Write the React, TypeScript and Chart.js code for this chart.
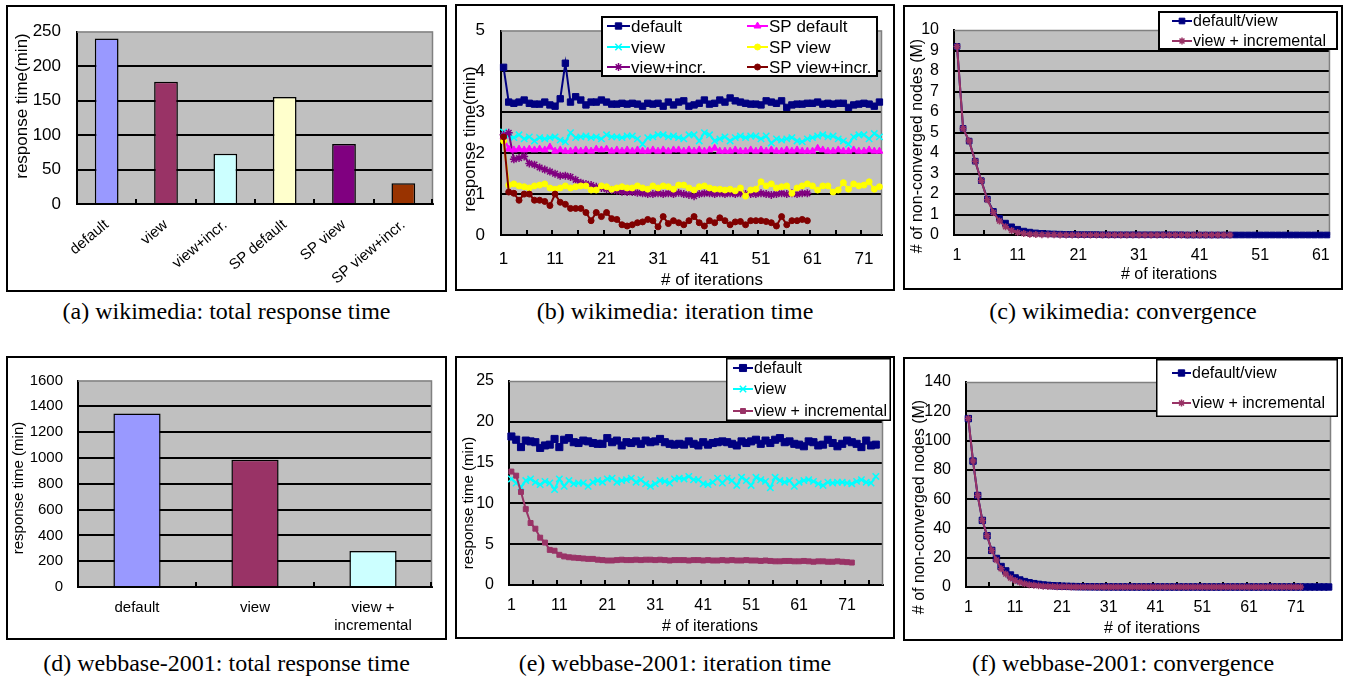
import React, { useEffect, useRef } from 'react';
import { Chart, registerables } from 'chart.js';

Chart.register(...registerables);

const FONT_FAMILY = "'Liberation Sans', Arial, Helvetica, sans-serif";
const SERIF = "'Liberation Serif', 'Times New Roman', serif";

// ---------------- (a) wikimedia: total response time ----------------
const WIKI_BAR_CATEGORIES = ['default', 'view', 'view+incr.', 'SP default', 'SP view', 'SP view+incr.'];
const WIKI_BAR_VALUES = [240, 177, 73, 155, 87, 30];

// ---------------- (d) webbase-2001: total response time ----------------
const WEB_BAR_CATEGORIES = ['default', 'view', ['view +', 'incremental']];
const WEB_BAR_VALUES = [1345, 985, 278];

// ---------------- (b) wikimedia: iteration time ----------------
const WIKI_ITER_TICKS = [1, 11, 21, 31, 41, 51, 61, 71];
const WIKI_DEFAULT = [
  4.10, 3.25, 3.22, 3.25, 3.30, 3.22, 3.20, 3.20, 3.25, 3.18,
  3.15, 3.33, 4.20, 3.25, 3.38, 3.30, 3.18, 3.25, 3.25, 3.30,
  3.25, 3.20, 3.20, 3.22, 3.20, 3.22, 3.20, 3.15, 3.22, 3.20,
  3.22, 3.15, 3.25, 3.18, 3.25, 3.28, 3.15, 3.18, 3.22, 3.30,
  3.20, 3.22, 3.30, 3.25, 3.35, 3.28, 3.25, 3.22, 3.20, 3.20,
  3.18, 3.28, 3.25, 3.22, 3.28, 3.12, 3.18, 3.20, 3.20, 3.22,
  3.22, 3.25, 3.20, 3.22, 3.20, 3.22, 3.22, 3.12, 3.18, 3.20,
  3.22, 3.20, 3.15, 3.25,
];
const WIKI_VIEW = [
  2.52, 2.42, 2.38, 2.45, 2.35, 2.40, 2.30, 2.38, 2.35, 2.38,
  2.40, 2.32, 2.28, 2.50, 2.38, 2.40, 2.42, 2.38, 2.40, 2.35,
  2.45, 2.40, 2.40, 2.38, 2.42, 2.42, 2.35, 2.22, 2.38, 2.40,
  2.45, 2.45, 2.40, 2.42, 2.38, 2.35, 2.45, 2.45, 2.30, 2.50,
  2.45, 2.30, 2.35, 2.40, 2.30, 2.38, 2.42, 2.38, 2.42, 2.42,
  2.35, 2.42, 2.25, 2.35, 2.32, 2.35, 2.38, 2.30, 2.28, 2.35,
  2.38, 2.42, 2.45, 2.40, 2.42, 2.35, 2.30, 2.22, 2.40, 2.45,
  2.45, 2.35, 2.48, 2.40,
];
const WIKI_VIEW_INCR = [
  2.45, 2.50, 1.85, 1.88, 1.92, 1.75, 1.72, 1.65, 1.60, 1.55,
  1.50, 1.45, 1.45, 1.42, 1.35, 1.28, 1.25, 1.22, 1.18, 1.15,
  1.12, 1.10, 1.08, 1.06, 1.05, 1.05, 1.03, 1.02, 1.00, 1.00,
  1.02, 1.00, 1.02, 1.00, 1.03, 1.00, 0.98, 0.95, 1.00, 1.02,
  1.02, 1.00, 1.02, 1.00, 1.02, 1.00, 1.02, 1.00, 1.00, 1.00,
  1.02, 1.00, 0.98, 1.00, 1.02, 1.00, 1.02, 1.00, 1.02, 1.02,
];
const WIKI_SP_DEFAULT = [
  2.40, 2.10, 2.08, 2.10, 2.08, 2.10, 2.08, 2.10, 2.08, 2.15,
  2.05, 2.08, 2.05, 2.05, 2.08, 2.05, 2.08, 2.05, 2.10, 2.08,
  2.10, 2.05, 2.08, 2.05, 2.08, 2.05, 2.08, 2.05, 2.05, 2.08,
  2.05, 2.08, 2.05, 2.08, 2.08, 2.05, 2.08, 2.05, 2.08, 2.05,
  2.08, 2.12, 2.05, 2.05, 2.05, 2.08, 2.05, 2.05, 2.08, 2.05,
  2.08, 2.05, 2.08, 2.05, 2.05, 2.08, 2.05, 2.08, 2.05, 2.05,
  2.05, 2.12, 2.08, 2.05, 2.05, 2.08, 2.05, 2.05, 2.08, 2.05,
  2.05, 2.08, 2.05, 2.05,
];
const WIKI_SP_VIEW = [
  2.30, 1.22, 1.25, 1.20, 1.18, 1.15, 1.20, 1.22, 1.25, 1.15,
  1.12, 1.15, 1.20, 1.15, 1.18, 1.20, 1.20, 1.10, 1.10, 1.20,
  1.18, 1.12, 1.15, 1.18, 1.15, 1.15, 1.20, 1.15, 1.12, 1.20,
  1.15, 1.20, 1.18, 1.12, 1.22, 1.22, 1.15, 1.10, 1.18, 1.20,
  1.15, 1.12, 1.12, 1.10, 1.12, 1.08, 1.15, 0.95, 1.10, 1.12,
  1.30, 1.20, 1.25, 1.15, 1.18, 1.20, 1.02, 1.15, 1.20, 1.25,
  1.20, 1.10, 1.20, 1.20, 1.05, 1.10, 1.28, 1.12, 1.25, 1.20,
  1.22, 1.30, 1.12, 1.18,
];
const WIKI_SP_VIEW_INCR = [
  2.40, 1.05, 1.02, 0.85, 1.00, 1.00, 0.85, 0.85, 0.82, 0.72,
  1.00, 0.80, 0.75, 0.65, 0.65, 0.65, 0.55, 0.35, 0.55, 0.45,
  0.55, 0.40, 0.38, 0.25, 0.22, 0.25, 0.30, 0.32, 0.38, 0.35,
  0.20, 0.45, 0.28, 0.35, 0.30, 0.25, 0.35, 0.45, 0.30, 0.22,
  0.35, 0.30, 0.42, 0.35, 0.25, 0.32, 0.33, 0.25, 0.35, 0.35,
  0.35, 0.33, 0.30, 0.22, 0.45, 0.25, 0.35, 0.35, 0.38, 0.35,
];

// ---------------- (c) wikimedia: convergence ----------------
const WIKI_CONV_TICKS = [1, 11, 21, 31, 41, 51, 61];
const WIKI_CONV_DEFAULT = [
  9.20, 5.20, 4.58, 3.60, 2.65, 1.75, 1.15, 0.82, 0.58, 0.40,
  0.28, 0.19, 0.14, 0.10, 0.08, 0.06, 0.05, 0.04, 0.03, 0.03,
  0.02, 0.02, 0.02, 0.02, 0.01, 0.01, 0.01, 0.01, 0.01, 0.01,
  0.01, 0.01, 0.01, 0.01, 0.01, 0.01, 0.01, 0.01, 0.00, 0.00,
  0.00, 0.00, 0.00, 0.00, 0.00, 0.00, 0.00, 0.00, 0.00, 0.00,
  0.00, 0.00, 0.00, 0.00, 0.00, 0.00, 0.00, 0.00, 0.00, 0.00,
  0.00, 0.00,
];
const WIKI_CONV_INCR = [
  9.20, 5.20, 4.58, 3.60, 2.65, 1.72, 1.10, 0.68, 0.40, 0.22,
  0.12, 0.07, 0.04, 0.02, 0.01, 0.01, 0.01, 0.00, 0.00, 0.00,
  0.00, 0.00, 0.00, 0.00, 0.00, 0.00, 0.00, 0.00, 0.00, 0.00,
  0.00, 0.00, 0.00, 0.00, 0.00, 0.00, 0.00, 0.00, 0.00, 0.00,
  0.00, 0.00, 0.00, 0.00, 0.00, 0.00,
];

// ---------------- (e) webbase-2001: iteration time ----------------
const WEB_ITER_TICKS = [1, 11, 21, 31, 41, 51, 61, 71];
const WEB_DEFAULT = [
  18.2, 17.8, 16.9, 17.7, 17.6, 17.5, 16.8, 17.1, 17.2, 17.9,
  16.9, 17.8, 18.0, 17.5, 17.4, 17.7, 17.6, 17.4, 17.3, 17.3,
  18.0, 17.5, 17.7, 17.1, 17.5, 17.4, 17.6, 17.3, 17.7, 17.5,
  17.6, 17.9, 17.5, 17.3, 17.2, 17.3, 17.2, 17.6, 17.3, 17.1,
  17.5, 17.2, 17.4, 17.5, 17.6, 17.5, 17.3, 17.1, 17.6, 17.4,
  17.6, 17.8, 17.3, 17.7, 17.4, 17.8, 18.0, 17.5, 17.6, 17.3,
  17.2, 17.0, 17.6, 17.5, 17.1, 17.2, 17.8, 17.4, 17.0, 17.3,
  17.7, 17.5, 17.3, 16.9, 17.7, 17.1, 17.2,
];
const WEB_VIEW = [
  13.0, 12.5, 12.0, 12.8, 13.0, 12.6, 12.3, 12.7, 12.5, 11.7,
  13.0, 12.1, 12.8, 12.4, 12.5, 12.5, 12.1, 12.6, 12.8, 12.6,
  13.0, 13.1, 12.6, 12.8, 12.9, 13.1, 12.6, 12.9, 12.4, 12.1,
  12.4, 12.8, 12.7, 12.5, 13.0, 13.1, 13.0, 13.3, 12.9, 12.9,
  12.4, 12.3, 12.6, 13.1, 12.5, 13.1, 12.8, 12.2, 13.2, 12.8,
  12.2, 13.2, 12.9, 12.7, 11.9, 13.2, 12.8, 12.6, 12.8, 12.1,
  12.6, 12.8, 12.9, 12.7, 12.4, 12.2, 12.6, 12.5, 12.6, 12.6,
  12.5, 12.4, 12.7, 12.9, 12.6, 12.5, 13.3,
];
const WEB_VIEW_INCR = [
  13.9, 13.4, 11.4, 9.3, 7.6, 6.9, 5.8, 5.2, 4.3, 4.2,
  3.7, 3.5, 3.4, 3.35, 3.3, 3.25, 3.2, 3.2, 3.1, 3.05,
  3.0, 3.0, 3.05, 3.1, 3.05, 3.05, 3.1, 3.05, 3.1, 3.1,
  3.05, 3.1, 3.05, 3.0, 3.05, 3.05, 3.05, 3.0, 3.05, 3.05,
  3.0, 3.05, 3.0, 3.0, 3.05, 3.0, 3.05, 3.0, 3.0, 3.05,
  3.0, 3.0, 2.95, 3.0, 2.95, 2.9, 2.9, 2.95, 2.95, 2.9,
  2.9, 2.95, 2.9, 2.85, 2.9, 2.9, 2.85, 2.85, 2.9, 2.85,
  2.8, 2.75,
];

// ---------------- (f) webbase-2001: convergence ----------------
const WEB_CONV_TICKS = [1, 11, 21, 31, 41, 51, 61, 71];
const WEB_CONV_DEFAULT = [
  115, 86, 62.5, 45.5, 35, 25, 19.5, 14, 11, 8.2,
  6.2, 4.8, 3.7, 2.9, 2.3, 1.8, 1.4, 1.1, 0.9, 0.7,
  0.55, 0.45, 0.35, 0.28, 0.22, 0.18, 0.14, 0.11, 0.09, 0.07,
  0.06, 0.05, 0.04, 0.03, 0.03, 0.02, 0.02, 0.02, 0.01, 0.01,
  0.01, 0.01, 0.01, 0.01, 0.01, 0.01, 0.01, 0.01, 0.01, 0.01,
  0, 0, 0, 0, 0, 0, 0, 0, 0, 0,
  0, 0, 0, 0, 0, 0, 0, 0, 0, 0,
  0, 0, 0, 0, 0, 0, 0, 0,
];
const WEB_CONV_INCR = [
  115, 86, 62.5, 45.5, 35, 25, 18.5, 12.5, 8.8, 6.2,
  4.5, 3.2, 2.3, 1.6, 1.15, 0.8, 0.55, 0.4, 0.28, 0.2,
  0.14, 0.1, 0.07, 0.05, 0.04, 0.03, 0.02, 0.02, 0.01, 0.01,
  0, 0, 0, 0, 0, 0, 0, 0, 0, 0,
  0, 0, 0, 0, 0, 0, 0, 0, 0, 0,
  0, 0, 0, 0, 0, 0, 0, 0, 0, 0,
  0, 0, 0, 0, 0, 0, 0, 0, 0, 0,
  0, 0,
];

// ---------------- styles ----------------
const BAR_COLORS_A = ['#9999FF', '#993366', '#CCFFFF', '#FFFFCC', '#800080', '#993300'];
const BAR_COLORS_D = ['#9999FF', '#993366', '#CCFFFF'];

type Title = { text: string; x: number; y: number; size: number; rotate?: boolean };
type LegendItem = { ds: number; x: number; y: number; len: number };
type LegendSpec = { box: [number, number, number, number]; border: number; size: number; items: LegendItem[] };

function drawMarker(ctx: CanvasRenderingContext2D, style: string, x: number, y: number, r: number, fill: string, stroke: string, lw: number) {
  ctx.save();
  ctx.fillStyle = fill;
  ctx.strokeStyle = stroke;
  ctx.lineWidth = lw;
  ctx.beginPath();
  if (style === 'rect') {
    const s = r * Math.SQRT1_2;
    ctx.rect(x - s, y - s, 2 * s, 2 * s);
    ctx.fill();
    ctx.stroke();
  } else if (style === 'circle') {
    ctx.arc(x, y, r, 0, Math.PI * 2);
    ctx.fill();
    ctx.stroke();
  } else if (style === 'triangle') {
    let rad = 0;
    ctx.moveTo(x + Math.sin(rad) * r, y - Math.cos(rad) * r);
    rad += (2 * Math.PI) / 3;
    ctx.lineTo(x + Math.sin(rad) * r, y - Math.cos(rad) * r);
    rad += (2 * Math.PI) / 3;
    ctx.lineTo(x + Math.sin(rad) * r, y - Math.cos(rad) * r);
    ctx.closePath();
    ctx.fill();
    ctx.stroke();
  } else {
    const d = r * Math.SQRT1_2;
    ctx.moveTo(x - d, y - d);
    ctx.lineTo(x + d, y + d);
    ctx.moveTo(x - d, y + d);
    ctx.lineTo(x + d, y - d);
    if (style === 'star') {
      ctx.moveTo(x, y - r);
      ctx.lineTo(x, y + r);
      ctx.moveTo(x - r, y);
      ctx.lineTo(x + r, y);
    }
    ctx.stroke();
  }
  ctx.restore();
}

function decor(opts: { ticks: 'iter' | 'cat'; titles: Title[]; legend?: LegendSpec }) {
  return {
    id: 'decor',
    beforeDraw(chart: any) {
      const { ctx, chartArea: a } = chart;
      ctx.save();
      ctx.fillStyle = '#C0C0C0';
      ctx.fillRect(a.left, a.top, a.right - a.left, a.bottom - a.top);
      ctx.restore();
    },
    beforeDatasetsDraw(chart: any) {
      const { ctx, chartArea: a, scales } = chart;
      ctx.save();
      ctx.strokeStyle = '#808080';
      ctx.lineWidth = 1.5;
      ctx.beginPath();
      ctx.moveTo(a.left, a.top + 0.5);
      ctx.lineTo(a.right - 0.5, a.top + 0.5);
      ctx.lineTo(a.right - 0.5, a.bottom);
      ctx.stroke();
      const x = scales.x;
      const marks: number[] = [];
      if (opts.ticks === 'iter') {
        for (let v = x.min + 5; v < x.max; v += 5) marks.push(x.getPixelForValue(v));
      } else {
        for (let i = 1; i < x.ticks.length; i++) marks.push((x.getPixelForTick(i - 1) + x.getPixelForTick(i)) / 2);
        marks.push(a.right - 1);
      }
      ctx.strokeStyle = '#000';
      ctx.lineWidth = 2;
      ctx.beginPath();
      for (const px of marks) {
        const rx = Math.round(px);
        ctx.moveTo(rx, a.bottom);
        ctx.lineTo(rx, a.bottom - 5);
      }
      ctx.stroke();
      ctx.restore();
    },
    afterDraw(chart: any) {
      const { ctx } = chart;
      ctx.save();
      ctx.fillStyle = '#000';
      ctx.textAlign = 'center';
      ctx.textBaseline = 'middle';
      for (const t of opts.titles) {
        ctx.save();
        ctx.font = `${t.size}px ${FONT_FAMILY}`;
        ctx.translate(t.x, t.y);
        if (t.rotate) ctx.rotate(-Math.PI / 2);
        ctx.fillText(t.text, 0, 0);
        ctx.restore();
      }
      const lg = opts.legend;
      if (lg) {
        const [x1, y1, x2, y2] = lg.box;
        ctx.fillStyle = '#fff';
        ctx.fillRect(x1, y1, x2 - x1, y2 - y1);
        ctx.strokeStyle = '#000';
        ctx.lineWidth = lg.border;
        ctx.strokeRect(x1 + lg.border / 2, y1 + lg.border / 2, x2 - x1 - lg.border, y2 - y1 - lg.border);
        ctx.font = `${lg.size}px ${FONT_FAMILY}`;
        ctx.textAlign = 'left';
        ctx.textBaseline = 'middle';
        for (const it of lg.items) {
          const ds = chart.data.datasets[it.ds];
          ctx.strokeStyle = ds.borderColor;
          ctx.lineWidth = ds.borderWidth;
          ctx.beginPath();
          ctx.moveTo(it.x, it.y);
          ctx.lineTo(it.x + it.len, it.y);
          ctx.stroke();
          drawMarker(ctx, ds.pointStyle, it.x + it.len / 2, it.y, ds.pointRadius, ds.pointBackgroundColor, ds.pointBorderColor, ds.pointBorderWidth);
          ctx.fillStyle = '#000';
          ctx.fillText(ds.label, it.x + it.len + 1, it.y + 1);
        }
      }
      ctx.restore();
    },
  };
}

function series(label: string, values: number[], color: string, style: string, radius: number, pbw = 1) {
  return {
    label,
    data: values.map((y, i) => ({ x: i + 1, y })),
    borderColor: color,
    backgroundColor: color,
    borderWidth: 2,
    pointStyle: style,
    pointRadius: radius,
    pointHoverRadius: radius,
    pointBackgroundColor: color,
    pointBorderColor: color,
    pointBorderWidth: pbw,
    clip: false,
  };
}

type Frame = { yWidth: number; xHeight: number; padTop: number; padRight: number; size: number; yPad: number; xPad: number; yMax: number; yStep: number; xSize?: number };

function yScale(f: Frame) {
  return {
    min: 0,
    max: f.yMax,
    ticks: {
      stepSize: f.yStep, color: '#000', padding: f.yPad,
      font: { family: FONT_FAMILY, size: f.size, lineHeight: 1 },
      callback: (v: any) => String(v),
    },
    afterFit: (s: any) => { s.width = f.yWidth; },
    grid: {
      color: (c: any) => (c.tick && c.tick.value === f.yMax ? 'rgba(0,0,0,0)' : '#000'),
      lineWidth: 2,
      drawTicks: false,
    },
    border: { display: true, color: '#000', width: 2 },
  };
}

function lineConfig(datasets: any[], xMax: number, xTicks: number[], f: Frame, plugin: any) {
  const n = datasets.length;
  datasets.forEach((d, i) => { d.order = n - i; });
  return {
    type: 'line',
    data: { datasets },
    options: {
      responsive: false,
      animation: false,
      events: [],
      layout: { padding: { top: f.padTop, right: f.padRight, left: 0, bottom: 0 } },
      plugins: { legend: { display: false }, tooltip: { enabled: false } },
      scales: {
        x: {
          type: 'linear',
          min: 0.5,
          max: xMax + 0.5,
          afterBuildTicks: (s: any) => { s.ticks = xTicks.map((v) => ({ value: v })); },
          afterFit: (s: any) => { s.height = f.xHeight; },
          grid: { display: false, drawTicks: false },
          border: { display: true, color: '#000', width: 2 },
          ticks: {
            color: '#000', padding: f.xPad, maxRotation: 0, autoSkip: false,
            font: { family: FONT_FAMILY, size: f.size },
            callback: (v: any) => String(v),
          },
        },
        y: yScale(f),
      },
    },
    plugins: [plugin],
  } as any;
}

function barConfig(labels: any[], values: number[], colors: string[], f: Frame, rotation: number, plugin: any) {
  return {
    type: 'bar',
    data: {
      labels,
      datasets: [{
        data: values,
        backgroundColor: colors,
        borderColor: '#000',
        borderWidth: 1.5,
        barPercentage: 0.4,
        categoryPercentage: 1,
      }],
    },
    options: {
      responsive: false,
      animation: false,
      events: [],
      layout: { padding: { top: f.padTop, right: f.padRight, left: 0, bottom: 0 } },
      plugins: { legend: { display: false }, tooltip: { enabled: false } },
      scales: {
        x: {
          afterFit: (s: any) => { s.height = f.xHeight; },
          grid: { display: false, drawTicks: false },
          border: { display: true, color: '#000', width: 2 },
          ticks: {
            color: '#000', padding: f.xPad, minRotation: rotation, maxRotation: rotation, autoSkip: false,
            font: { family: FONT_FAMILY, size: f.xSize ?? f.size },
          },
        },
        y: yScale(f),
      },
    },
    plugins: [plugin],
  } as any;
}

function buildA() {
  return barConfig(WIKI_BAR_CATEGORIES, WIKI_BAR_VALUES, BAR_COLORS_A,
    { yWidth: 69, xHeight: 86, padTop: 10, padRight: 12, size: 17, xSize: 15, yPad: 16, xPad: 12, yMax: 250, yStep: 50 }, 40,
    decor({ ticks: 'cat', titles: [{ text: 'response time(min)', x: 14, y: 99, size: 17, rotate: true }] }));
}

function buildD() {
  return barConfig(WEB_BAR_CATEGORIES, WEB_BAR_VALUES, BAR_COLORS_D,
    { yWidth: 70, xHeight: 51, padTop: 12, padRight: 13, size: 15, yPad: 15, xPad: 12, yMax: 1600, yStep: 200 }, 0,
    decor({ ticks: 'cat', titles: [{ text: 'response time (min)', x: 11, y: 130, size: 15, rotate: true }] }));
}

function buildB() {
  const ds = [
    series('default', WIKI_DEFAULT, '#000080', 'rect', 4.5),
    series('view', WIKI_VIEW, '#00FFFF', 'crossRot', 4.5, 1.5),
    series('view+incr.', WIKI_VIEW_INCR, '#800080', 'star', 4, 1.5),
    series('SP default', WIKI_SP_DEFAULT, '#FF00FF', 'triangle', 4),
    series('SP view', WIKI_SP_VIEW, '#FFFF00', 'circle', 3),
    series('SP view+incr.', WIKI_SP_VIEW_INCR, '#800000', 'circle', 3),
  ];
  return lineConfig(ds, 74, WIKI_ITER_TICKS,
    { yWidth: 44, xHeight: 54, padTop: 9, padRight: 11, size: 17, yPad: 16, xPad: 14, yMax: 5, yStep: 1 },
    decor({
      ticks: 'iter',
      titles: [
        { text: 'response time(min)', x: 13, y: 133, size: 17, rotate: true },
        { text: '# of iterations', x: 255, y: 274, size: 17 },
      ],
      legend: {
        box: [144, 10, 421, 71], border: 2, size: 17,
        items: [
          { ds: 0, x: 150, y: 20, len: 23 },
          { ds: 1, x: 150, y: 41, len: 23 },
          { ds: 2, x: 150, y: 61, len: 23 },
          { ds: 3, x: 290, y: 20, len: 21 },
          { ds: 4, x: 290, y: 41, len: 21 },
          { ds: 5, x: 290, y: 61, len: 21 },
        ],
      },
    }));
}

function buildC() {
  const ds = [
    series('default/view', WIKI_CONV_DEFAULT, '#000080', 'rect', 4),
    series('view + incremental', WIKI_CONV_INCR, '#993366', 'star', 3.5, 1.5),
  ];
  return lineConfig(ds, 62, WIKI_CONV_TICKS,
    { yWidth: 49, xHeight: 53, padTop: 11, padRight: 10, size: 16, yPad: 15, xPad: 11, yMax: 10, yStep: 1 },
    decor({
      ticks: 'iter',
      titles: [
        { text: '# of non-converged nodes (M)', x: 13, y: 139, size: 16, rotate: true },
        { text: '# of iterations', x: 264, y: 268, size: 16 },
      ],
      legend: {
        box: [253, 4, 433, 43], border: 2, size: 16,
        items: [
          { ds: 0, x: 267, y: 14, len: 20 },
          { ds: 1, x: 267, y: 34, len: 20 },
        ],
      },
    }));
}

function buildE() {
  const ds = [
    series('default', WEB_DEFAULT, '#000080', 'rect', 5),
    series('view', WEB_VIEW, '#00FFFF', 'crossRot', 4.5, 1.5),
    series('view + incremental', WEB_VIEW_INCR, '#993366', 'rect', 3.5),
  ];
  return lineConfig(ds, 78, WEB_ITER_TICKS,
    { yWidth: 52, xHeight: 52, padTop: 11, padRight: 10, size: 16, yPad: 15, xPad: 11, yMax: 25, yStep: 5 },
    decor({
      ticks: 'iter',
      titles: [
        { text: 'response time (min)', x: 12, y: 145, size: 15, rotate: true },
        { text: '# of iterations', x: 253, y: 269, size: 16 },
      ],
      legend: {
        box: [269, 0, 434, 63], border: 1.5, size: 16,
        items: [
          { ds: 0, x: 276, y: 10, len: 20 },
          { ds: 1, x: 276, y: 31, len: 20 },
          { ds: 2, x: 276, y: 53, len: 20 },
        ],
      },
    }));
}

function buildF() {
  const ds = [
    series('default/view', WEB_CONV_DEFAULT, '#000080', 'rect', 4.5),
    series('view + incremental', WEB_CONV_INCR, '#993366', 'star', 3.5, 1.5),
  ];
  return lineConfig(ds, 78, WEB_CONV_TICKS,
    { yWidth: 61, xHeight: 52, padTop: 11, padRight: 10, size: 16, yPad: 15, xPad: 11, yMax: 140, yStep: 20 },
    decor({
      ticks: 'iter',
      titles: [
        { text: '# of non-converged nodes (M)', x: 15, y: 148, size: 16, rotate: true },
        { text: '# of iterations', x: 247, y: 270, size: 16 },
      ],
      legend: {
        box: [251, 0, 433, 58], border: 1.5, size: 16,
        items: [
          { ds: 0, x: 267, y: 14, len: 19 },
          { ds: 1, x: 267, y: 44, len: 19 },
        ],
      },
    }));
}

function Panel(props: { left: number; top: number; width: number; height: number; caption: string; captionTop: number; build: () => any }) {
  const { left, top, width, height, caption, captionTop, build } = props;
  const ref = useRef<HTMLCanvasElement | null>(null);
  useEffect(() => {
    const chart = new Chart(ref.current as HTMLCanvasElement, build());
    return () => chart.destroy();
  }, []);
  return (
    <>
      <div style={{ position: 'absolute', left, top, width, height, border: '2px solid #000', boxSizing: 'border-box', background: '#fff' }}>
        <canvas ref={ref} width={width - 4} height={height - 4} style={{ display: 'block', width: width - 4, height: height - 4 }} />
      </div>
      <div style={{ position: 'absolute', left: left - 30, width: width + 60, top: captionTop, textAlign: 'center', fontFamily: SERIF, fontSize: 24, lineHeight: '26px', whiteSpace: 'nowrap', color: '#000' }}>
        {caption}
      </div>
    </>
  );
}

export default function App() {
  return (
    <div style={{ position: 'absolute', left: 0, top: 0, width: 1349, height: 677, background: '#fff', overflow: 'hidden' }}>
      <Panel left={6} top={5} width={441} height={287} caption="(a) wikimedia: total response time" captionTop={298} build={buildA} />
      <Panel left={455} top={4} width={440} height={287} caption="(b) wikimedia: iteration time" captionTop={298} build={buildB} />
      <Panel left={903} top={5} width={440} height={285} caption="(c) wikimedia: convergence" captionTop={298} build={buildC} />
      <Panel left={6} top={356} width={441} height={284} caption="(d) webbase-2001: total response time" captionTop={650} build={buildD} />
      <Panel left={455} top={356} width={440} height={283} caption="(e) webbase-2001: iteration time" captionTop={650} build={buildE} />
      <Panel left={903} top={357} width={440} height={284} caption="(f) webbase-2001: convergence" captionTop={650} build={buildF} />
    </div>
  );
}
